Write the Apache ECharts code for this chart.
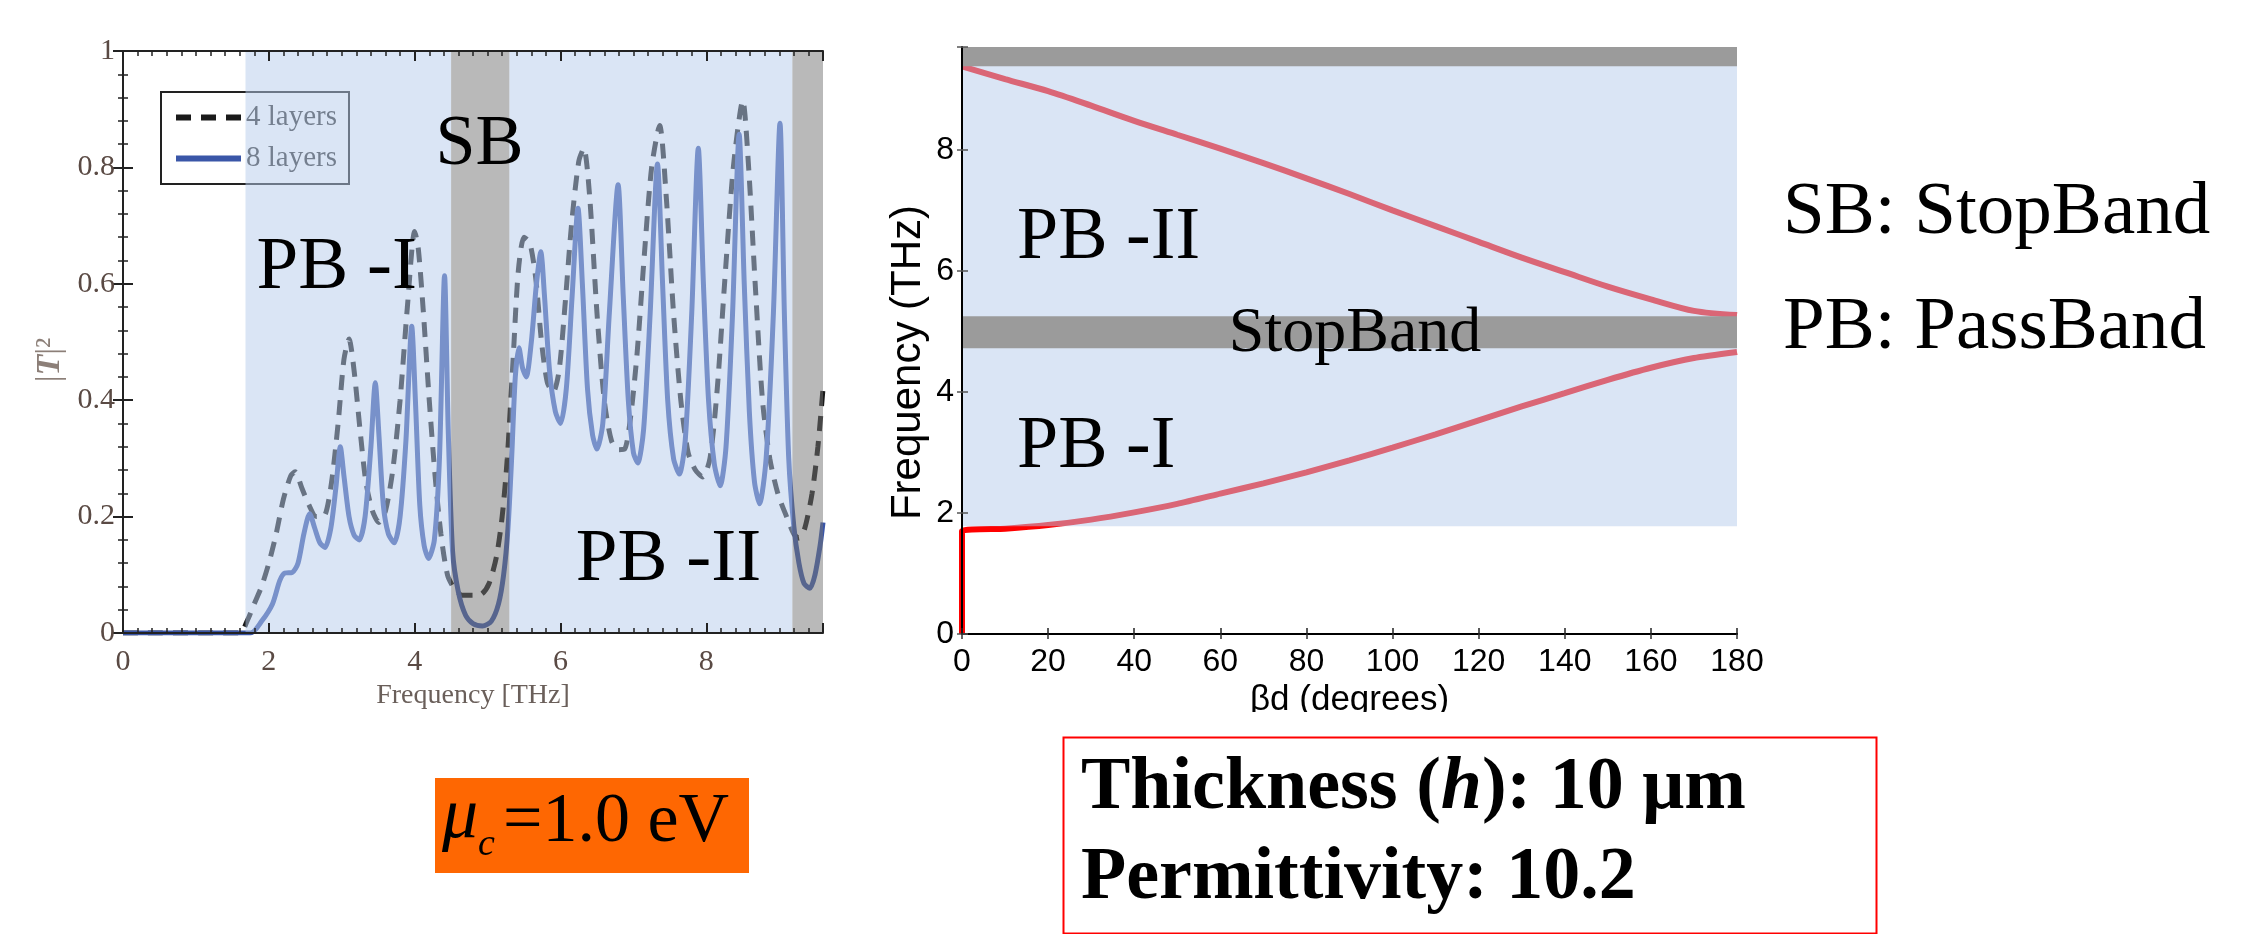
<!DOCTYPE html>
<html>
<head>
<meta charset="utf-8">
<script src="https://cdn.jsdelivr.net/npm/echarts/dist/echarts.min.js"></script>
<style>
html,body{margin:0;padding:0;background:#fff}
#main{width:2260px;height:934px}
</style>
</head>
<body>
<div id="main"></div>
<script>
// left plot: |T|^2 against frequency (THz)
var layer8Freq = [0,1.75,1.9,2.05,2.15,2.22,2.32,2.4,2.48,2.56,2.63,2.7,2.77,2.85,2.92,2.98,3.03,3.1,3.17,3.24,3.32,3.4,3.46,3.51,3.57,3.64,3.72,3.8,3.88,3.96,4.01,4.07,4.13,4.19,4.27,4.34,4.41,4.46,4.52,4.6,4.7,4.8,4.93,5.05,5.15,5.22,5.28,5.33,5.38,5.43,5.48,5.53,5.6,5.67,5.73,5.78,5.85,5.93,6.0,6.08,6.16,6.24,6.3,6.37,6.44,6.5,6.58,6.67,6.79,6.86,6.93,7.0,7.06,7.14,7.23,7.33,7.4,7.47,7.55,7.63,7.71,7.8,7.89,7.96,8.03,8.11,8.19,8.27,8.36,8.45,8.52,8.59,8.66,8.73,8.82,8.92,9.01,9.07,9.13,9.2,9.27,9.34,9.42,9.49,9.56,9.6];
var layer8T = [0,0,0.02,0.05,0.09,0.103,0.104,0.12,0.17,0.205,0.18,0.155,0.147,0.18,0.25,0.32,0.27,0.2,0.168,0.16,0.2,0.32,0.43,0.34,0.22,0.17,0.155,0.2,0.33,0.527,0.4,0.22,0.15,0.128,0.16,0.3,0.614,0.35,0.14,0.07,0.03,0.016,0.012,0.02,0.05,0.1,0.18,0.3,0.44,0.49,0.455,0.44,0.5,0.6,0.655,0.58,0.45,0.38,0.36,0.42,0.58,0.73,0.6,0.42,0.34,0.316,0.36,0.55,0.77,0.58,0.4,0.31,0.292,0.35,0.55,0.806,0.6,0.4,0.3,0.273,0.33,0.55,0.833,0.6,0.4,0.29,0.253,0.32,0.55,0.857,0.6,0.38,0.26,0.222,0.3,0.55,0.876,0.55,0.3,0.183,0.12,0.085,0.077,0.1,0.15,0.19];
var layer4Freq = [0,1.6,1.7,1.8,1.9,2.0,2.1,2.2,2.3,2.36,2.45,2.55,2.65,2.75,2.85,2.95,3.03,3.1,3.17,3.25,3.33,3.42,3.51,3.6,3.7,3.8,3.9,4.0,4.05,4.12,4.2,4.28,4.36,4.45,4.55,4.65,4.8,4.92,5.02,5.12,5.2,5.27,5.35,5.42,5.5,5.58,5.66,5.74,5.82,5.9,5.98,6.06,6.15,6.25,6.32,6.4,6.5,6.6,6.7,6.8,6.88,6.96,7.05,7.15,7.25,7.36,7.45,7.55,7.65,7.75,7.85,7.95,8.05,8.15,8.25,8.37,8.5,8.58,8.67,8.77,8.87,8.98,9.1,9.2,9.27,9.35,9.45,9.53,9.6];
var layer4T = [0,0,0.02,0.05,0.08,0.12,0.17,0.23,0.27,0.277,0.25,0.22,0.2,0.2,0.25,0.36,0.47,0.505,0.45,0.35,0.26,0.21,0.19,0.21,0.28,0.4,0.56,0.69,0.66,0.55,0.4,0.27,0.17,0.1,0.075,0.065,0.065,0.067,0.085,0.13,0.2,0.3,0.47,0.62,0.68,0.67,0.61,0.5,0.43,0.414,0.45,0.56,0.7,0.81,0.833,0.75,0.55,0.4,0.33,0.315,0.316,0.37,0.48,0.65,0.8,0.872,0.75,0.55,0.4,0.31,0.28,0.268,0.3,0.42,0.6,0.8,0.915,0.8,0.6,0.4,0.3,0.24,0.2,0.17,0.163,0.18,0.24,0.32,0.42];
var leftBandFrom = [1.68, 4.5, 5.3, 9.18];
var leftBandTo = [4.5, 5.3, 9.18, 9.6];
var leftBandType = ['pass', 'stop', 'pass', 'stop'];
var leftTextX = [2.93, 4.89, 7.48];
var leftTextY = [0.627, 0.838, 0.125];
var leftText = ['PB -I', 'SB', 'PB -II'];

// right plot: dispersion, frequency (THz) against beta*d (degrees)
var lowerDeg = [0,0,10,20,30,40,50,60,70,80,90,100,110,120,130,140,150,160,170,180];
var lowerFreq = [0,1.70,1.74,1.80,1.89,2.01,2.15,2.32,2.49,2.67,2.87,3.08,3.3,3.53,3.76,3.98,4.2,4.4,4.56,4.66];
var upperDeg = [0,10,20,30,40,50,60,70,80,90,100,110,120,130,140,150,160,170,180];
var upperFreq = [9.38,9.17,8.97,8.73,8.48,8.25,8.02,7.78,7.53,7.27,7.0,6.74,6.48,6.22,5.98,5.74,5.53,5.34,5.27];
var rightBandLow = [1.78, 4.72, 9.38];
var rightBandHigh = [9.7, 5.25, 9.7];
var rightBandType = ['pass', 'stop', 'stop'];
var rightTextX = [12.8, 12.8, 91.3];
var rightTextY = [6.54, 3.08, 4.95];
var rightText = ['PB -II', 'PB -I', 'StopBand'];

var zip = function(a, b){
  var out = [];
  for (var i = 0; i < a.length; i++) { out.push([a[i], b[i]]); }
  return out;
};

var serif = "'Liberation Serif', 'Times New Roman', serif";
var sans = "'Liberation Sans', Arial, sans-serif";
var passFill = 'rgba(181,203,235,0.5)';

var myChart = echarts.init(document.getElementById('main'));

var tickOnly = function(extra){
  var o = {
    type: 'value', axisLabel: {show: false}, splitLine: {show: false},
    axisLine: {show: false}, z: 6
  };
  for (var k in extra) { o[k] = extra[k]; }
  return o;
};
var evenOnly = function(v){ return Math.abs(v % 2) < 1e-6 ? String(v) : ''; };

var options = {
  animation: false,
  backgroundColor: '#fff',
  grid: [
    {left: 123, top: 51, width: 700, height: 582},
    {left: 962, top: 47, width: 775, height: 587}
  ],
  legend: {
    data: [
      {name: '4 layers', itemStyle: {opacity: 0, color: 'rgba(0,0,0,0)', borderWidth: 0}},
      {name: '8 layers', itemStyle: {opacity: 0, color: 'rgba(0,0,0,0)', borderWidth: 0}}
    ],
    orient: 'vertical',
    left: 161, top: 92,
    padding: [11, 12, 11, 12],
    itemGap: 12,
    itemWidth: 65, itemHeight: 20,
    borderColor: '#222', borderWidth: 2,
    backgroundColor: '#fff',
    lineStyle: {width: 6},
    textStyle: {fontFamily: serif, fontSize: 29, color: '#333'},
    z: 4
  },
  xAxis: [
    {
      type: 'value', gridIndex: 0, position: 'bottom', min: 0, max: 9.6, interval: 2, z: 6,
      axisLine: {lineStyle: {color: '#222', width: 2}},
      axisTick: {inside: true, length: 10, lineStyle: {color: '#222', width: 2}},
      axisLabel: {margin: 14, fontFamily: serif, fontSize: 30, color: '#5a4a44', formatter: evenOnly},
      splitLine: {show: false},
      name: 'Frequency [THz]', nameLocation: 'middle', nameGap: 43,
      nameTextStyle: {fontFamily: serif, fontSize: 28, color: '#6a5f5a'}
    },
    tickOnly({gridIndex: 0, position: 'bottom', min: 0, max: 9.6, interval: 0.2,
      axisTick: {inside: true, length: 5, lineStyle: {color: '#222', width: 1.5}}}),
    tickOnly({gridIndex: 0, position: 'top', min: 0, max: 9.6, interval: 2,
      axisLine: {show: true, lineStyle: {color: '#222', width: 2}},
      axisTick: {inside: true, length: 10, lineStyle: {color: '#222', width: 2}}}),
    tickOnly({gridIndex: 0, position: 'top', min: 0, max: 9.6, interval: 0.2,
      axisTick: {inside: true, length: 5, lineStyle: {color: '#222', width: 1.5}}}),
    {
      type: 'value', gridIndex: 1, position: 'bottom', min: 0, max: 180, interval: 20, z: 6,
      axisLine: {lineStyle: {color: '#000', width: 2}},
      axisTick: {inside: true, length: 6, lineStyle: {color: '#222', width: 1.5}},
      axisLabel: {margin: 12, fontFamily: sans, fontSize: 32, color: '#000'},
      splitLine: {show: false},
      name: '\u03b2d (degrees)', nameLocation: 'middle', nameGap: 48,
      nameTextStyle: {fontFamily: sans, fontSize: 35, color: '#000'}
    },
    tickOnly({gridIndex: 1, position: 'top', min: 0, max: 180, interval: 20,
      axisLine: {show: true, lineStyle: {color: '#000', width: 2}},
      axisTick: {inside: true, length: 5, lineStyle: {color: '#333', width: 1.5}}})
  ],
  yAxis: [
    {
      type: 'value', gridIndex: 0, position: 'left', min: 0, max: 1, interval: 0.2, z: 6,
      axisLine: {lineStyle: {color: '#222', width: 2}},
      axisTick: {inside: true, length: 10, lineStyle: {color: '#222', width: 2}},
      minorTick: {show: true, splitNumber: 5, length: 5, lineStyle: {color: '#222', width: 1.5}},
      axisLabel: {margin: 8, fontFamily: serif, fontSize: 30, color: '#5a4a44'},
      splitLine: {show: false},
      name: '|{it|T}|\u00b2', nameLocation: 'middle', nameGap: 56, nameRotate: 90,
      nameTextStyle: {fontFamily: serif, fontSize: 34, color: '#8c7f78', padding: [0, 36, 0, 0],
        rich: {it: {fontFamily: serif, fontSize: 34, fontStyle: 'italic', fontWeight: 'bold', color: '#8c7f78'}}}
    },
    tickOnly({gridIndex: 0, position: 'right', min: 0, max: 1, interval: 0.2,
      axisLine: {show: true, lineStyle: {color: '#222', width: 2}},
      axisTick: {inside: true, length: 10, lineStyle: {color: '#222', width: 2}},
      minorTick: {show: true, splitNumber: 5, length: 5, lineStyle: {color: '#222', width: 1.5}}}),
    {
      type: 'value', gridIndex: 1, position: 'left', min: 0, max: 9.7, interval: 2, z: 6,
      axisLine: {lineStyle: {color: '#000', width: 2}},
      axisTick: {inside: true, length: 6, lineStyle: {color: '#555', width: 1.5}},
      axisLabel: {margin: 8, fontFamily: sans, fontSize: 32, color: '#000', formatter: evenOnly},
      splitLine: {show: false},
      name: 'Frequency (THz)', nameLocation: 'middle', nameGap: 33, nameRotate: 90,
      nameTextStyle: {fontFamily: sans, fontSize: 42, color: '#000', padding: [0, 44, 0, 0]}
    },
    tickOnly({gridIndex: 1, position: 'right', min: 0, max: 9.7, interval: 2,
      axisLine: {show: true, lineStyle: {color: '#000', width: 2}},
      axisTick: {inside: true, length: 5, lineStyle: {color: '#555', width: 1.5}}})
  ],
  series: [
    {
      name: '4 layers', type: 'line', xAxisIndex: 0, yAxisIndex: 0,
      data: zip(layer4Freq, layer4T), symbol: 'none', smooth: 0.25, z: 2,
      lineStyle: {color: '#1a1a1a', width: 5, type: [15, 10]},
      itemStyle: {color: '#1a1a1a'}
    },
    {
      name: '8 layers', type: 'line', xAxisIndex: 0, yAxisIndex: 0,
      data: zip(layer8Freq, layer8T), symbol: 'none', smooth: 0.25, z: 3,
      lineStyle: {color: '#3a56a8', width: 5},
      itemStyle: {color: '#3a56a8'}
    },
    {
      name: 'bands-left', type: 'custom', xAxisIndex: 0, yAxisIndex: 0, z: 5, silent: true,
      encode: {x: [0, 1]},
      data: leftBandFrom.map(function(v, i){ return [v, leftBandTo[i], i]; }),
      renderItem: function(params, api){
        var i = api.value(2);
        var a = api.coord([api.value(0), 1]);
        var b = api.coord([api.value(1), 0]);
        return {type: 'rect', shape: {x: a[0], y: a[1], width: b[0] - a[0], height: b[1] - a[1]},
          style: {fill: leftBandType[i] === 'pass' ? passFill : 'rgba(115,115,115,0.5)'}};
      }
    },
    {
      name: 'text-left', type: 'custom', xAxisIndex: 0, yAxisIndex: 0, z: 8, silent: true, clip: false,
      encode: {x: 0, y: 1},
      data: leftTextX.map(function(v, i){ return [v, leftTextY[i], i]; }),
      renderItem: function(params, api){
        var i = api.value(2);
        var p = api.coord([api.value(0), api.value(1)]);
        return {type: 'text', x: p[0], y: p[1],
          style: {text: leftText[i], font: (leftText[i] === 'SB' ? 72 : 75) + 'px ' + serif,
            fill: '#000', align: 'center', verticalAlign: 'middle'}};
      }
    },
    {
      name: 'lower', type: 'line', xAxisIndex: 4, yAxisIndex: 2,
      data: zip(lowerDeg, lowerFreq), symbol: 'none', smooth: 0.2, z: 2,
      lineStyle: {color: '#ff0000', width: 6}
    },
    {
      name: 'upper', type: 'line', xAxisIndex: 4, yAxisIndex: 2,
      data: zip(upperDeg, upperFreq), symbol: 'none', smooth: 0.3, z: 2,
      lineStyle: {color: '#ff0000', width: 6}
    },
    {
      name: 'bands-right', type: 'custom', xAxisIndex: 4, yAxisIndex: 2, z: 5, silent: true,
      encode: {y: [0, 1]},
      data: rightBandLow.map(function(v, i){ return [v, rightBandHigh[i], i]; }),
      renderItem: function(params, api){
        var i = api.value(2);
        var a = api.coord([0, api.value(1)]);
        var b = api.coord([180, api.value(0)]);
        return {type: 'rect', shape: {x: a[0], y: a[1], width: b[0] - a[0], height: b[1] - a[1]},
          style: {fill: rightBandType[i] === 'pass' ? passFill : '#9b9b9b'}};
      }
    },
    {
      name: 'text-right', type: 'custom', xAxisIndex: 4, yAxisIndex: 2, z: 8, silent: true, clip: false,
      encode: {x: 0, y: 1},
      data: rightTextX.map(function(v, i){ return [v, rightTextY[i], i]; }),
      renderItem: function(params, api){
        var i = api.value(2);
        var p = api.coord([api.value(0), api.value(1)]);
        var stop = rightText[i] === 'StopBand';
        return {type: 'text', x: p[0], y: p[1],
          style: {text: rightText[i], font: (stop ? 64 : 74) + 'px ' + serif,
            fill: '#000', align: stop ? 'center' : 'left', verticalAlign: 'middle'}};
      }
    }
  ],
  graphic: [
    // the x-axis name of the right plot is cut off at its foot
    {type: 'rect', left: 1230, top: 712, shape: {width: 260, height: 20}, style: {fill: '#fff'}, z: 100},
    // notes on the right
    {type: 'text', left: 1783, top: 176, style: {text: 'SB: StopBand', font: '75px ' + serif, fill: '#000'}},
    {type: 'text', left: 1783, top: 291, style: {text: 'PB: PassBand', font: '75px ' + serif, fill: '#000'}},
    // mu_c box
    {type: 'rect', left: 435, top: 778, shape: {width: 314, height: 95}, style: {fill: '#fe6702'}},
    {type: 'text', left: 442, top: 782, style: {text: '\u03bc', font: 'italic 72px ' + serif, fill: '#000'}},
    {type: 'text', left: 478, top: 826, style: {text: 'c', font: 'italic 38px ' + serif, fill: '#000'}},
    {type: 'text', left: 503, top: 788, style: {text: '=1.0 eV', font: '70px ' + serif, fill: '#000'}},
    // thickness box
    {type: 'rect', left: 1061, top: 735, shape: {width: 813, height: 196},
      style: {fill: 'none', stroke: '#ff0000', lineWidth: 2}},
    {type: 'text', left: 1081, top: 752, style: {
      text: 'Thickness ({i|h}): 10 \u03bcm', font: 'bold 74px ' + serif, fill: '#000',
      rich: {i: {font: 'italic bold 74px ' + serif, fill: '#000'}}}},
    {type: 'text', left: 1081, top: 842, style: {text: 'Permittivity: 10.2', font: 'bold 74px ' + serif, fill: '#000'}}
  ]
};

myChart.setOption(options);
</script>
</body>
</html>
